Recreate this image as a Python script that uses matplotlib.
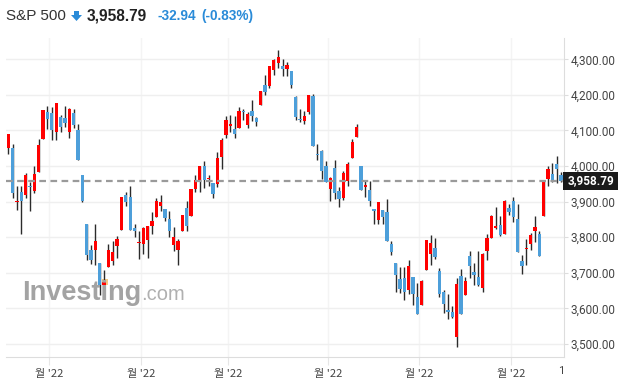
import matplotlib
matplotlib.use("Agg")
import matplotlib.pyplot as plt
from matplotlib.patches import Rectangle, Polygon

# S&P 500 daily candles, 17 May - 16 Nov 2022
dates = ["05-17", "05-18", "05-19", "05-20", "05-23", "05-24", "05-25", "05-26", "05-27", "05-31",
         "06-01", "06-02", "06-03", "06-06", "06-07", "06-08", "06-09", "06-10", "06-13", "06-14",
         "06-15", "06-16", "06-17", "06-21", "06-22", "06-23", "06-24", "06-27", "06-28", "06-29",
         "06-30", "07-01", "07-05", "07-06", "07-07", "07-08", "07-11", "07-12", "07-13", "07-14",
         "07-15", "07-18", "07-19", "07-20", "07-21", "07-22", "07-25", "07-26", "07-27", "07-28",
         "07-29", "08-01", "08-02", "08-03", "08-04", "08-05", "08-08", "08-09", "08-10", "08-11",
         "08-12", "08-15", "08-16", "08-17", "08-18", "08-19", "08-22", "08-23", "08-24", "08-25",
         "08-26", "08-29", "08-30", "08-31", "09-01", "09-02", "09-06", "09-07", "09-08", "09-09",
         "09-12", "09-13", "09-14", "09-15", "09-16", "09-19", "09-20", "09-21", "09-22", "09-23",
         "09-26", "09-27", "09-28", "09-29", "09-30", "10-03", "10-04", "10-05", "10-06", "10-07",
         "10-10", "10-11", "10-12", "10-13", "10-14", "10-17", "10-18", "10-19", "10-20", "10-21",
         "10-24", "10-25", "10-26", "10-27", "10-28", "10-31", "11-01", "11-02", "11-03", "11-04",
         "11-07", "11-08", "11-09", "11-10", "11-11", "11-14", "11-15", "11-16"]

opens = [4052, 4051, 3899, 3927, 3919, 3942, 3929, 3984, 4077, 4151,
         4149, 4095, 4137, 4134, 4096, 4148, 4102, 3974, 3838, 3764,
         3764, 3728, 3665, 3715, 3734, 3775, 3821, 3920, 3913, 3825,
         3785, 3782, 3792, 3831, 3858, 3888, 3880, 3851, 3779, 3763,
         3818, 3883, 3861, 3935, 3955, 4000, 3965, 3953, 3951, 4026,
         4087, 4112, 4105, 4107, 4155, 4115, 4155, 4134, 4171, 4227,
         4225, 4269, 4290, 4280, 4273, 4266, 4195, 4133, 4126, 4153,
         4198, 4034, 4041, 4000, 3936, 3994, 3930, 3909, 3959, 4022,
         4083, 4000, 3940, 3932, 3880, 3849, 3876, 3871, 3782, 3727,
         3682, 3686, 3651, 3688, 3633, 3610, 3707, 3753, 3771, 3706,
         3647, 3595, 3591, 3520, 3690, 3638, 3746, 3703, 3689, 3657,
         3762, 3799, 3825, 3834, 3808, 3881, 3901, 3852, 3733, 3767,
         3780, 3817, 3810, 3859, 3963, 3977, 4007, 3976]
highs = [4090, 4063, 3945, 3943, 3981, 3956, 3999, 4075, 4158, 4168,
         4166, 4177, 4143, 4169, 4164, 4160, 4119, 3974, 3838, 3778,
         3838, 3728, 3708, 3780, 3790, 3803, 3913, 3928, 3945, 3836,
         3818, 3829, 3832, 3870, 3910, 3918, 3880, 3873, 3829, 3796,
         3863, 3902, 3936, 3974, 3999, 4013, 3975, 3953, 4039, 4078,
         4140, 4144, 4140, 4167, 4161, 4151, 4186, 4137, 4211, 4257,
         4280, 4301, 4325, 4302, 4292, 4266, 4196, 4160, 4156, 4200,
         4203, 4062, 4044, 4015, 3970, 4018, 3942, 3987, 4011, 4076,
         4119, 4000, 3961, 3959, 3880, 3900, 3877, 3907, 3790, 3727,
         3716, 3717, 3736, 3688, 3671, 3679, 3791, 3807, 3797, 3713,
         3652, 3641, 3608, 3685, 3712, 3689, 3762, 3728, 3762, 3757,
         3810, 3862, 3886, 3859, 3905, 3893, 3912, 3894, 3750, 3796,
         3813, 3859, 3818, 3959, 4001, 4009, 4028, 3983]
lows = [4033, 3911, 3876, 3810, 3909, 3875, 3925, 3984, 4077, 4104,
        4073, 4074, 4097, 4109, 4080, 4107, 4017, 3900, 3735, 3724,
        3722, 3639, 3636, 3715, 3722, 3742, 3821, 3889, 3820, 3800,
        3738, 3752, 3743, 3809, 3858, 3875, 3847, 3802, 3761, 3721,
        3817, 3818, 3861, 3927, 3927, 3938, 3944, 3910, 3941, 3993,
        4080, 4097, 4080, 4107, 4129, 4107, 4128, 4112, 4171, 4201,
        4219, 4256, 4277, 4253, 4254, 4218, 4129, 4124, 4119, 4147,
        4057, 4017, 3965, 3954, 3903, 3907, 3886, 3906, 3944, 4022,
        4083, 3933, 3912, 3889, 3838, 3838, 3838, 3789, 3749, 3647,
        3644, 3623, 3640, 3610, 3584, 3610, 3707, 3722, 3739, 3632,
        3588, 3569, 3573, 3491, 3584, 3638, 3686, 3666, 3664, 3647,
        3735, 3799, 3824, 3803, 3808, 3863, 3843, 3759, 3698, 3721,
        3764, 3786, 3748, 3859, 3945, 3956, 3953, 3954]
closes = [4088.85, 3923.68, 3900.79, 3901.36, 3973.75, 3941.48, 3978.73, 4057.84, 4158.24, 4132.15,
          4101.23, 4176.82, 4108.54, 4121.43, 4160.68, 4115.77, 4017.82, 3900.86, 3749.63, 3735.48,
          3789.99, 3666.77, 3674.84, 3764.79, 3759.89, 3795.73, 3911.74, 3900.11, 3821.55, 3818.83,
          3785.38, 3825.33, 3831.39, 3845.08, 3902.62, 3899.38, 3854.43, 3818.80, 3801.78, 3790.38,
          3863.16, 3830.85, 3936.69, 3959.90, 3998.95, 3961.63, 3966.84, 3921.05, 4023.61, 4072.43,
          4130.29, 4118.63, 4091.19, 4155.17, 4151.94, 4145.19, 4140.06, 4122.47, 4210.24, 4207.27,
          4280.15, 4297.14, 4305.20, 4274.04, 4283.74, 4228.48, 4137.99, 4128.73, 4140.77, 4199.12,
          4057.66, 4030.61, 3986.16, 3955.00, 3966.85, 3924.26, 3908.19, 3979.87, 4006.18, 4067.36,
          4110.41, 3932.69, 3946.01, 3901.35, 3873.33, 3899.89, 3855.93, 3789.93, 3757.99, 3693.23,
          3655.04, 3647.29, 3719.04, 3640.47, 3585.62, 3678.43, 3790.93, 3783.28, 3744.52, 3639.66,
          3612.39, 3588.84, 3577.03, 3669.91, 3583.07, 3677.95, 3719.98, 3695.16, 3665.78, 3752.75,
          3797.34, 3859.11, 3830.60, 3807.30, 3901.06, 3871.98, 3856.10, 3759.69, 3719.89, 3770.55,
          3806.80, 3828.11, 3748.57, 3956.37, 3992.93, 3957.25, 3991.73, 3958.79]

last_price = 3958.79
yticks = [3500, 3600, 3700, 3800, 3900, 4000, 4100, 4200, 4300]
xtick_label = "월 '22"

up_col = "#ff0000"
down_col = "#4d9fda"
wick_col = "#2b2b2b"

fig = plt.figure(figsize=(6.28, 3.87), dpi=100)
W, H = 628, 387
ax = fig.add_axes([6 / W, (H - 356.7) / H, (564 - 6) / W, (356.7 - 38) / H])

# watermark behind the candles (pixel positions -> figure fraction)
fig.text(22 / W, 1 - 300 / H, "Investing", fontsize=19.5, fontweight="bold",
         color="#a3a3a3", family="Liberation Sans", va="baseline", zorder=0)
fig.text(141 / W, 1 - 300 / H, ".com", fontsize=14.5, color="#b0b0b0",
         family="Liberation Sans", va="baseline", zorder=0)
fig.add_artist(Rectangle((102 / W, 1 - 285 / H), 6 / W, 6 / H, facecolor="#f6b24a",
                         alpha=0.7, edgecolor="none", transform=fig.transFigure, zorder=0))
ax.patch.set_alpha(0)

for i in range(len(closes)):
    o, h, l, c = opens[i], highs[i], lows[i], closes[i]
    col = up_col if c >= o else down_col
    ax.plot([i, i], [l, h], color=wick_col, lw=1.0, zorder=2, solid_capstyle="butt")
    bot = min(o, c)
    ht = max(abs(c - o), 1.5)
    ax.add_patch(Rectangle((i - 0.38, bot), 0.76, ht, facecolor=col, edgecolor="none", zorder=3))

ax.axhline(last_price, color="#9a9a9a", lw=1.6, ls=(0, (3, 2)), zorder=4)

# month ticks: first trading day of each month from June
month_pos = []
for i in range(1, len(dates)):
    if dates[i][:2] != dates[i - 1][:2]:
        month_pos.append(i - 0.55)

ax.set_xlim(-0.53, 127.66)
ax.set_ylim(3464.3, 4359.9)
ax.set_yticks(yticks)
ax.set_yticklabels(["{:,.2f}".format(v) for v in yticks])
ax.set_xticks(month_pos)
ax.set_xticklabels([xtick_label] * len(month_pos))
ax.yaxis.tick_right()
ax.grid(axis="y", color="#efefef", lw=1)
ax.grid(axis="x", color="#f4f4f4", lw=1)
ax.set_axisbelow(True)
for s in ["top", "left"]:
    ax.spines[s].set_visible(False)
ax.spines["right"].set_color("#dddddd")
ax.spines["bottom"].set_color("#dddddd")
ax.tick_params(axis="y", length=3, color="#dddddd", pad=2, labelsize=8.5, labelcolor="#444444")
ax.tick_params(axis="x", length=6, color="#e6e6e6", pad=3, labelsize=8, labelcolor="#444444")
for t in ax.get_yticklabels():
    t.set_family("Roboto")
for t in ax.get_xticklabels():
    t.set_family(["Noto Sans CJK KR", "DejaVu Sans"])

fig.text(561 / W, 1 - 371 / H, "1", fontsize=8, color="#444444", family="Roboto",
         ha="center", va="center")

# last price box
fig.add_artist(Rectangle((563 / W, 1 - 189.5 / H), 55 / W, 17.5 / H, facecolor="#1a1a1a",
                         edgecolor="none", transform=fig.transFigure))
fig.text(590.5 / W, 1 - 181 / H, "{:,.2f}".format(last_price), fontsize=8.5, color="white",
         fontweight="bold", family="Roboto", ha="center", va="center")

# header
hy = 1 - 16 / H
fig.text(6 / W, hy, "S&P 500", fontsize=11, color="#333333", family="Liberation Sans", va="center")
ax_pts = [(74, 11), (79, 11), (79, 15), (82, 15), (76.5, 21), (71, 15), (74, 15)]
fig.add_artist(Polygon([(x / W, 1 - y / H) for x, y in ax_pts], closed=True, facecolor="#2a8bd8",
                       edgecolor="none", transform=fig.transFigure))
fig.text(87 / W, hy, "{:,.2f}".format(closes[-1]), fontsize=11.2, color="#222222",
         fontweight="bold", family="Liberation Sans", va="center")
chg = closes[-1] - 3991.73
fig.text(157 / W, hy, "{:.2f}".format(chg), fontsize=9.8, color="#2a8bd8",
         fontweight="bold", family="Liberation Sans", va="center")
fig.text(201 / W, hy, "({:.2f}%)".format(chg / 3991.73 * 100), fontsize=9.8, color="#2a8bd8",
         fontweight="bold", family="Liberation Sans", va="center")

fig.savefig("out.png", dpi=100)
